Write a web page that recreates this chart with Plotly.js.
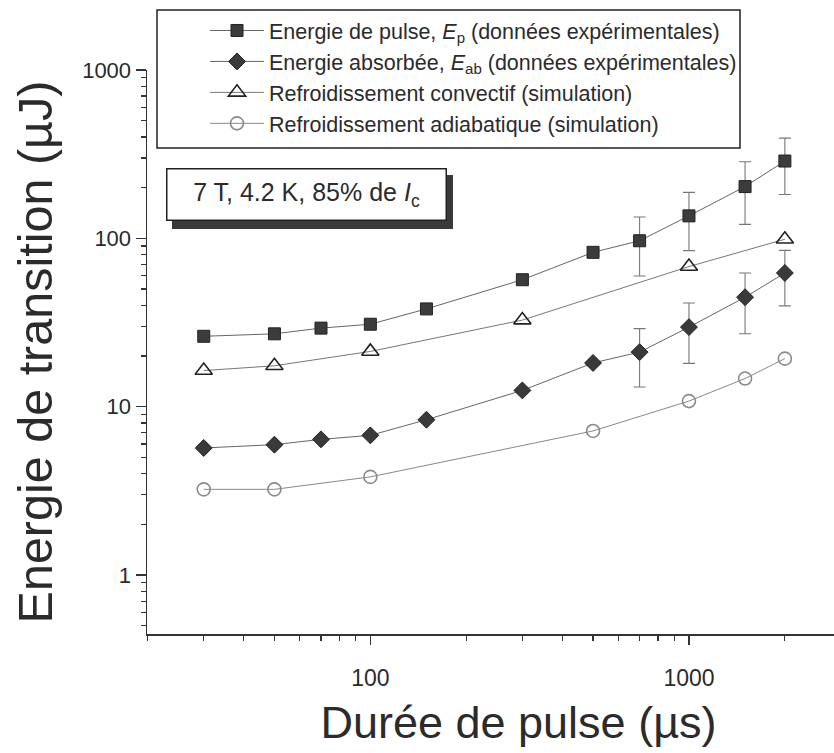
<!DOCTYPE html>
<html>
<head>
<meta charset="utf-8">
<script src="https://cdn.plot.ly/plotly-3.0.1.min.js"></script>
<style>
html, body { margin: 0; padding: 0; overflow: hidden; background: #fff; }
#chart { width: 890px; height: 753px; }
</style>
</head>
<body>
<div id="chart"></div>
<script>
// Pulse durations (µs)
const durationsExp = [30, 50, 70, 100, 150, 300, 500, 700, 1000, 1500, 2000];
// Energie de pulse Ep (µJ) and its error
const energyPulse = [26.2, 27.1, 29.3, 30.9, 38.1, 56.8, 82.6, 96.8, 136, 203, 288];
const energyPulseErr = [null, null, null, null, null, null, null, 37, 51.5, 82, 106];
// Energie absorbée Eab (µJ) and its error
const energyAbs = [5.69, 5.95, 6.40, 6.76, 8.37, 12.5, 18.2, 21.1, 29.7, 44.7, 62.3];
const energyAbsErr = [null, null, null, null, null, null, null, 8, 11.6, 17.6, 22.6];
// Simulation: convective cooling
const durationsConv = [30, 50, 100, 300, 1000, 2000];
const energyConv = [16.4, 17.5, 21.3, 32.7, 68, 98.8];
// Simulation: adiabatic cooling
const durationsAdiab = [30, 50, 100, 500, 1000, 1500, 2000];
const energyAdiab = [3.23, 3.23, 3.83, 7.18, 10.8, 14.7, 19.3];

const seriesNames = [
  'Energie de pulse, <i>E</i><sub>p</sub> (données expérimentales)',
  'Energie absorbée, <i>E</i><sub>ab</sub> (données expérimentales)',
  'Refroidissement convectif (simulation)',
  'Refroidissement adiabatique (simulation)'
];
const yTickVals = [1, 10, 100, 1000];
const yTickText = ['1', '10', '100', '1000'];
const xTickVals = [100, 1000];
const xTickText = ['100', '1000'];

const FONT = 'Liberation Sans, Arial, sans-serif';
const TXT = '#2b2b2b';

const traces = [
  {
    x: durationsExp, y: energyPulse, name: seriesNames[0], type: 'scatter', mode: 'lines+markers',
    line: {color: '#666', width: 1},
    marker: {symbol: 'square', size: 12, color: '#3c3c3c', line: {color: '#222', width: 1}},
    error_y: {type: 'data', array: energyPulseErr, visible: true, color: '#777', thickness: 1.1, width: 6}
  },
  {
    x: durationsExp, y: energyAbs, name: seriesNames[1], type: 'scatter', mode: 'lines+markers',
    line: {color: '#666', width: 1},
    marker: {symbol: 'diamond', size: 13, color: '#3a3a3a', line: {color: '#222', width: 1}},
    error_y: {type: 'data', array: energyAbsErr, visible: true, color: '#777', thickness: 1.1, width: 6}
  },
  {
    x: durationsConv, y: energyConv, name: seriesNames[2], type: 'scatter', mode: 'lines+markers',
    line: {color: '#777', width: 1},
    marker: {symbol: 'triangle-up-open', size: 15, color: '#222', line: {color: '#222', width: 1.6}}
  },
  {
    x: durationsAdiab, y: energyAdiab, name: seriesNames[3], type: 'scatter', mode: 'lines+markers',
    line: {color: '#888', width: 1},
    marker: {symbol: 'circle-open', size: 13, color: '#8a8a8a', line: {color: '#8a8a8a', width: 1.6}}
  }
];

const plotLeft = 147, plotRight = 890, plotTop = 70, plotBottom = 634;
const pw = plotRight - plotLeft, ph = plotBottom - plotTop;
const px = v => (v - plotLeft) / pw;
const py = v => (plotBottom - v) / ph;

const layout = {
  width: 890, height: 753,
  margin: {l: plotLeft, r: 890 - plotRight, t: plotTop, b: 753 - plotBottom},
  paper_bgcolor: '#fff', plot_bgcolor: '#fff',
  font: {family: FONT, color: TXT},
  showlegend: true,
  xaxis: {
    type: 'log', range: [1.299, 3.631], autorange: false,
    showline: true, linecolor: '#333', linewidth: 1.5, showgrid: false, zeroline: false,
    ticks: 'outside', ticklen: 9, tickwidth: 1.3, tickcolor: '#333',
    tickvals: xTickVals, ticktext: xTickText,
    tickfont: {size: 23, family: FONT, color: TXT},
    ticklabelstandoff: 14,
    minor: {ticks: 'outside', ticklen: 5, tickwidth: 1.2, tickcolor: '#333', dtick: 'D1', showgrid: false},
    title: {text: 'Durée de pulse (µs)', font: {size: 45, family: FONT, color: TXT}, standoff: 16}
  },
  yaxis: {
    type: 'log', range: [-0.35, 3.0], autorange: false,
    showline: true, linecolor: '#333', linewidth: 1.5, showgrid: false, zeroline: false,
    ticks: 'outside', ticklen: 10, tickwidth: 1.3, tickcolor: '#333',
    tickvals: yTickVals, ticktext: yTickText,
    tickfont: {size: 22, family: FONT, color: TXT},
    minor: {ticks: 'outside', ticklen: 5, tickwidth: 1.2, tickcolor: '#333', dtick: 'D1', showgrid: false},
    title: {text: 'Energie de transition (µJ)', font: {size: 48.5, family: FONT, color: TXT}, standoff: 14}
  },
  legend: {
    x: px(205), y: py(10), xanchor: 'left', yanchor: 'top',
    bgcolor: 'rgba(0,0,0,0)', borderwidth: 0,
    font: {size: 21.5, family: FONT, color: TXT},
    itemwidth: 54
  },
  shapes: [
    // legend frame
    {type: 'rect', xref: 'paper', yref: 'paper', x0: px(157), x1: px(740), y0: py(148), y1: py(10),
     fillcolor: '#fff', line: {color: '#222', width: 1.5}, layer: 'above'},
    // shadow of the conditions box
    {type: 'rect', xref: 'paper', yref: 'paper', x0: px(172), x1: px(453), y0: py(229), y1: py(175),
     fillcolor: '#3a3a3a', line: {width: 0}, layer: 'above'}
  ],
  annotations: [
    {xref: 'paper', yref: 'paper', x: px(306), y: py(195), xanchor: 'center', yanchor: 'middle',
     text: '7 T, 4.2 K, 85% de <i>I</i><sub>c</sub>', showarrow: false,
     font: {size: 25, family: FONT, color: TXT},
     bgcolor: '#fff', bordercolor: '#222', borderwidth: 1.5, width: 278, height: 50, borderpad: 0}
  ]
};

Plotly.newPlot('chart', traces, layout, {displayModeBar: false, staticPlot: true});
</script>
</body>
</html>
